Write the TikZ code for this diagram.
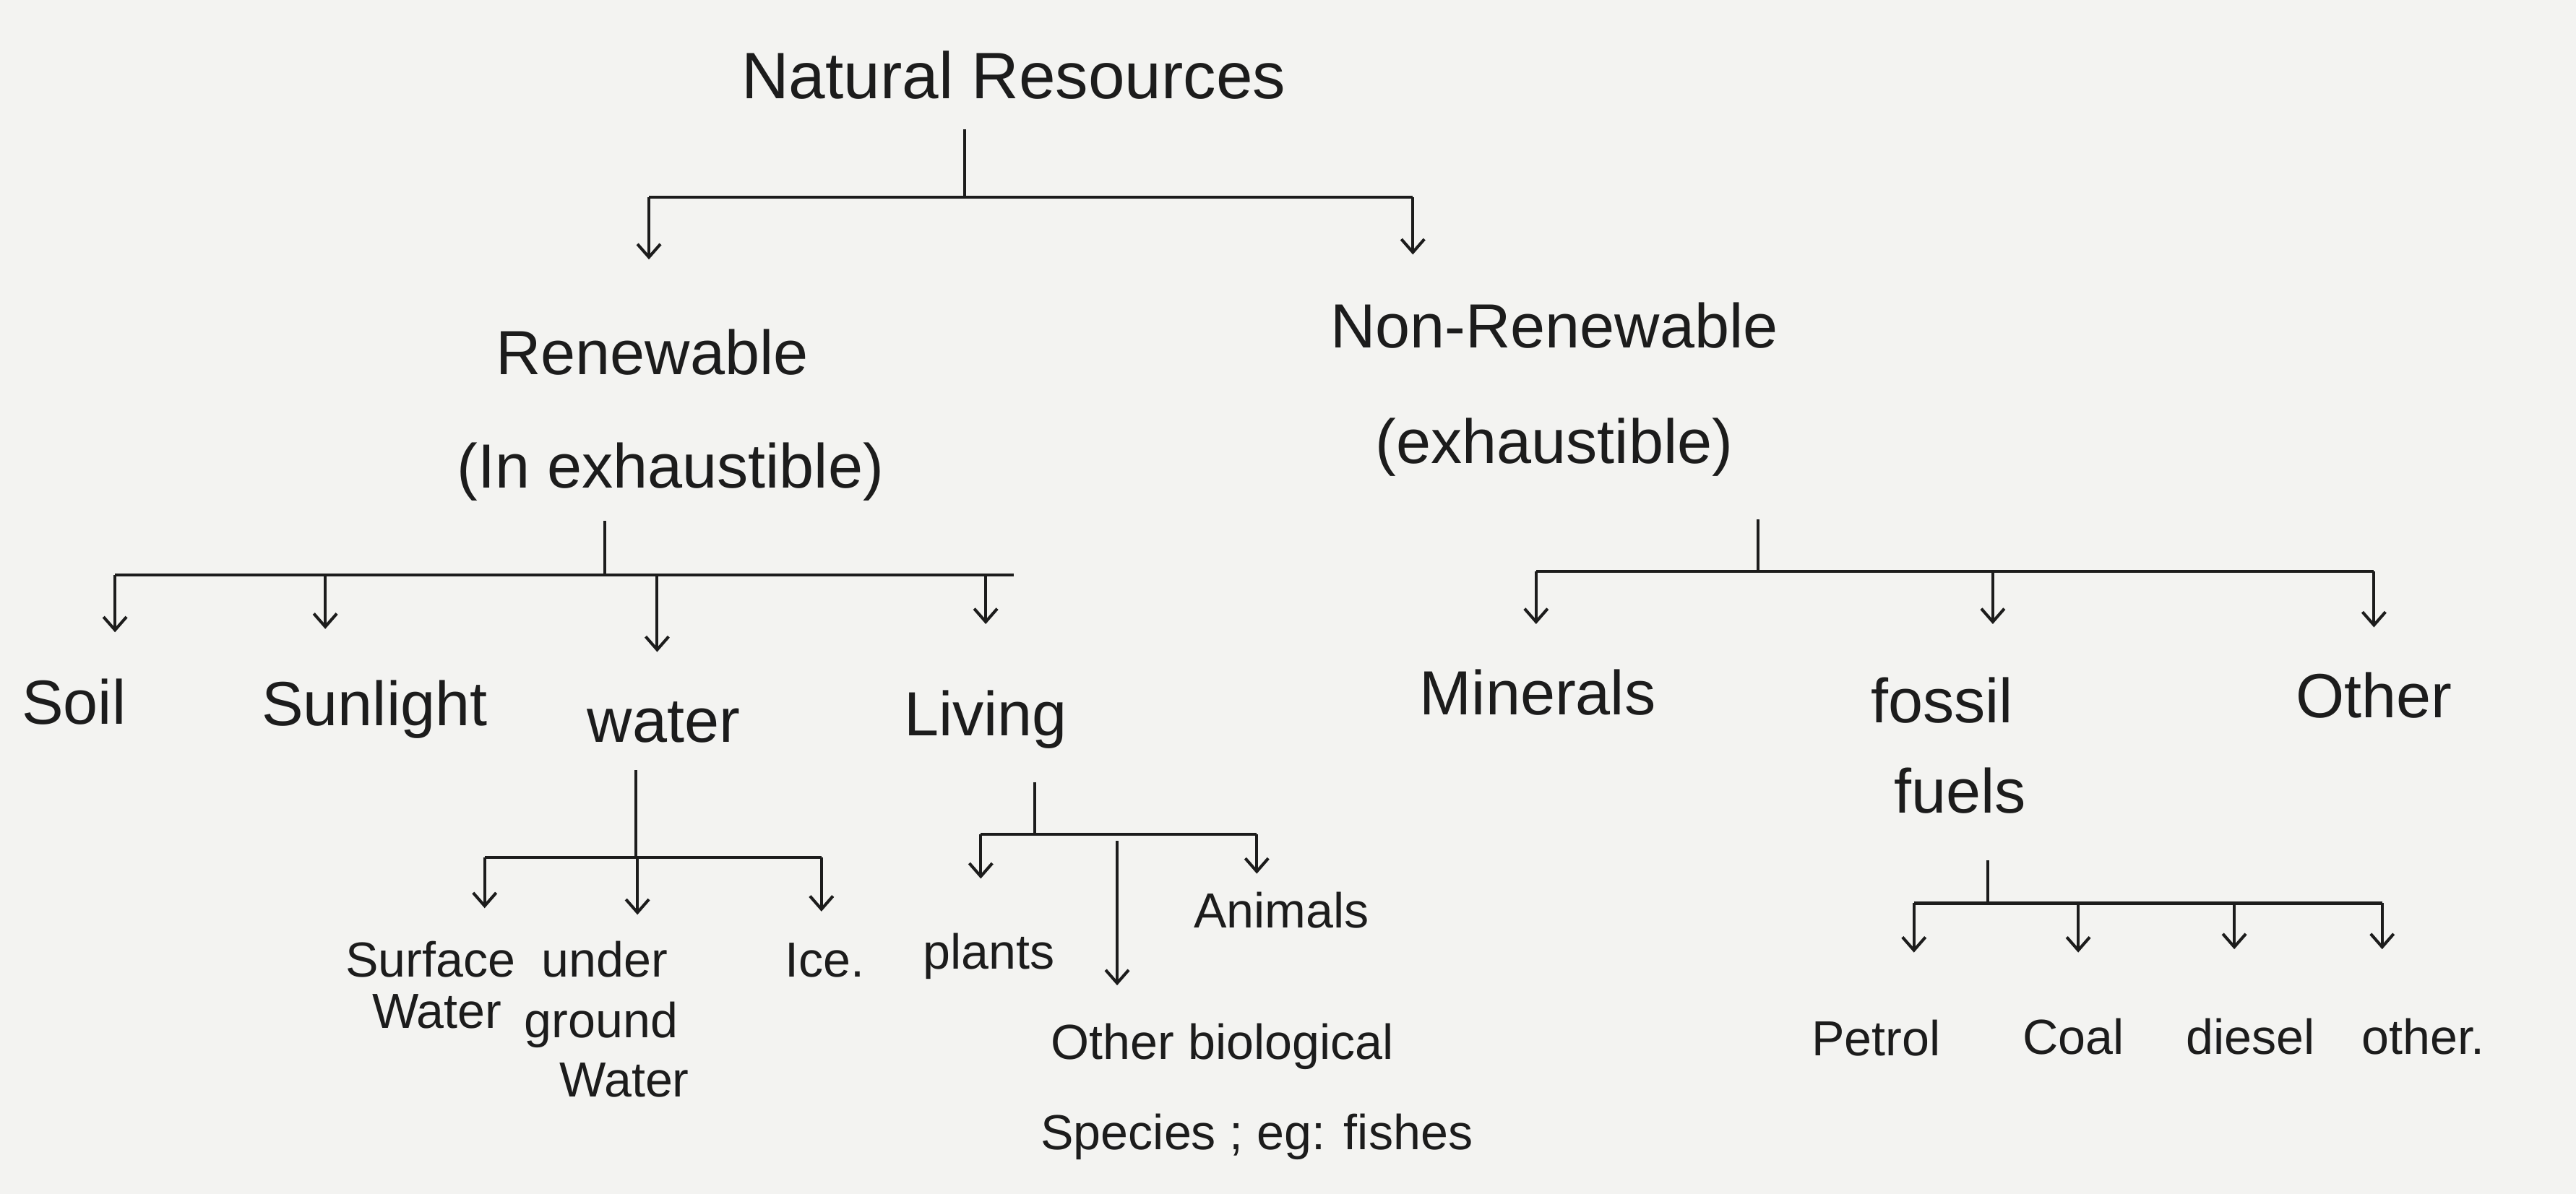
\documentclass[tikz,border=0pt]{standalone}
\usepackage{fontspec}
\setmainfont{Liberation Sans}
\usetikzlibrary{arrows.meta,calc}
\definecolor{paper}{RGB}{243,243,241}
\definecolor{ink}{RGB}{28,28,28}
\begin{document}
\begin{tikzpicture}[x=0.5pt,y=-0.5pt,
  every node/.style={text=ink, inner sep=2pt, anchor=base},
  line/.style={draw=ink, line width=0.9pt},
  arr/.style={draw=ink, line width=0.9pt, -{Straight Barb[length=4pt,width=7pt]}},
  lvlzero/.style={font=\fontsize{20}{24}\selectfont},
  lvlone/.style={font=\fontsize{19}{23}\selectfont},
  lvltwo/.style={font=\fontsize{19}{23}\selectfont},
  lvlthree/.style={font=\fontsize{15}{18}\selectfont},
]
\fill[paper] (0,0) rectangle (1568,727);
\useasboundingbox (0,0) rectangle (1568,727);

% ---------- level 0 ----------
\node[lvlzero] (NR) at (617,60) {Natural Resources};
\coordinate (NRj) at (587,120);
\coordinate (NRl) at (395,120);
\coordinate (NRr) at (860,120);
\draw[line, shorten <=7pt] (NR.south -| NRj) -- (NRj);
\draw[line] (NRl) -- (NRr);

% ---------- level 1 ----------
\node[lvlone] (Ren)  at (397,228) {Renewable};
\node[lvlone] (RenX) at (408,297) {(In exhaustible)};
\node[lvlone] (Non)  at (946,212) {Non-Renewable};
\node[lvlone] (NonX) at (946,282) {(exhaustible)};
\coordinate (tRen) at (395,158);
\coordinate (tNon) at (860,155);
\draw[arr] (NRl) -- (tRen);
\draw[arr] (NRr) -- (tNon);

% ---------- renewable branch ----------
\coordinate (Rj) at (368,350);
\coordinate (Rl) at (70,350);
\coordinate (Rr) at (617,350);
\draw[line, shorten <=4pt] (RenX.south -| Rj) -- (Rj);
\draw[line] (Rl) -- (Rr);
\node[lvltwo] (Soil) at (45,441) {Soil};
\node[lvltwo] (Sun)  at (228,442) {Sunlight};
\node[lvltwo] (Wat)  at (404,452) {water};
\node[lvltwo] (Liv)  at (600,448) {Living};
\coordinate (rSoil) at (70,350);  \coordinate (tSoil) at (70,385);
\coordinate (rSun)  at (198,350); \coordinate (tSun)  at (198,383);
\coordinate (rWat)  at (400,350); \coordinate (tWat)  at (400,397);
\coordinate (rLiv)  at (600,350); \coordinate (tLiv)  at (600,380);
\draw[arr] (rSoil) -- (tSoil);
\draw[arr] (rSun) -- (tSun);
\draw[arr] (rWat) -- (tWat);
\draw[arr] (rLiv) -- (tLiv);

% ---------- non-renewable branch ----------
\coordinate (Nj) at (1070,348);
\coordinate (Nl) at (935,348);
\coordinate (Nr) at (1445,348);
\draw[line, shorten <=11pt] (NonX.south -| Nj) -- (Nj);
\draw[line] (Nl) -- (Nr);
\node[lvltwo] (Min)  at (936,435) {Minerals};
\node[lvltwo] (Fos)  at (1182,440) {fossil};
\node[lvltwo] (Fuel) at (1193,495) {fuels};
\node[lvltwo] (Oth)  at (1445,437) {Other};
\coordinate (tMin) at (935,380);
\coordinate (rFos) at (1213,348); \coordinate (tFos) at (1213,380);
\coordinate (tOth) at (1445,382);
\draw[arr] (Nl) -- (tMin);
\draw[arr] (rFos) -- (tFos);
\draw[arr] (Nr) -- (tOth);

% ---------- water ----------
\coordinate (Wj) at (387,522);
\coordinate (Wl) at (295,522);
\coordinate (Wr) at (500,522);
\draw[line, shorten <=6pt] (Wat.south -| Wj) -- (Wj);
\draw[line] (Wl) -- (Wr);
\node[lvlthree] (Surf)  at (262,595) {Surface};
\node[lvlthree] (SurfW) at (266,626) {Water};
\node[lvlthree] (Und)   at (368,595) {under};
\node[lvlthree] (UndG)  at (366,632) {ground};
\node[lvlthree] (UndW)  at (380,668) {Water};
\node[lvlthree] (Ice)   at (502,595) {Ice.};
\coordinate (tSurf) at (295,553);
\coordinate (rUnd) at (388,522); \coordinate (tUnd) at (388,557);
\coordinate (tIce) at (500,555);
\draw[arr] (Wl) -- (tSurf);
\draw[arr] (rUnd) -- (tUnd);
\draw[arr] (Wr) -- (tIce);

% ---------- living ----------
\coordinate (Lj) at (630,508);
\coordinate (Ll) at (597,508);
\coordinate (Lr) at (765,508);
\draw[line, shorten <=8pt] (Liv.south -| Lj) -- (Lj);
\draw[line] (Ll) -- (Lr);
\node[lvlthree] (Pla)  at (602,590) {plants};
\node[lvlthree] (Ani)  at (780,565) {Animals};
\node[lvlthree] (Bio)  at (744,645) {Other biological};
\node[lvlthree] (BioS) at (765,700) {Species ; eg: fishes};
\coordinate (tPla) at (597,535);
\coordinate (rBio) at (680,512); \coordinate (tBio) at (680,600);
\coordinate (tAni) at (765,532);
\draw[arr] (Ll) -- (tPla);
\draw[arr] (rBio) -- (tBio);
\draw[arr] (Lr) -- (tAni);

% ---------- fossil fuels ----------
\coordinate (Fj) at (1210,550);
\coordinate (Fl) at (1165,550);
\coordinate (Fr) at (1450,550);
\draw[line, shorten <=12pt] (Fuel.south -| Fj) -- (Fj);
\draw[line] (Fl) -- (Fr);
\node[lvlthree] (Pet) at (1142,643) {Petrol};
\node[lvlthree] (Coa) at (1262,642) {Coal};
\node[lvlthree] (Die) at (1370,642) {diesel};
\node[lvlthree] (OtF) at (1475,642) {other.};
\coordinate (tPet) at (1165,580);
\coordinate (rCoa) at (1265,550); \coordinate (tCoa) at (1265,580);
\coordinate (rDie) at (1360,550); \coordinate (tDie) at (1360,578);
\coordinate (tOtF) at (1450,578);
\draw[arr] (Fl) -- (tPet);
\draw[arr] (rCoa) -- (tCoa);
\draw[arr] (rDie) -- (tDie);
\draw[arr] (Fr) -- (tOtF);
\end{tikzpicture}
\end{document}
